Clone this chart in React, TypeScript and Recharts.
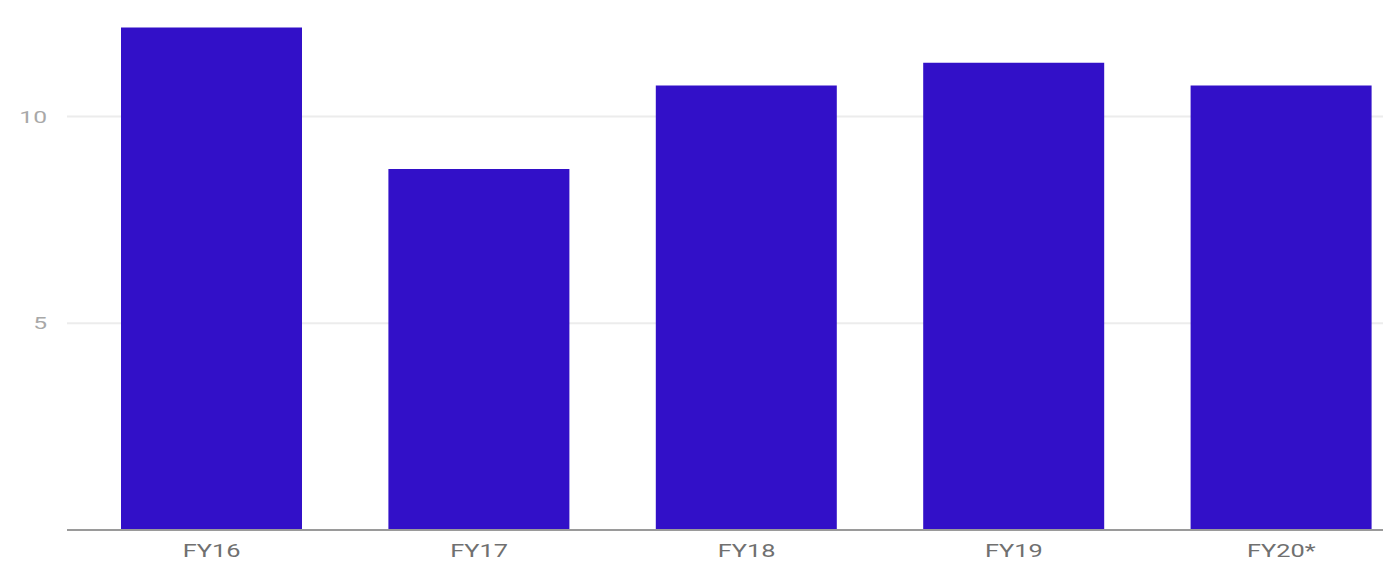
import React from "react";
import { BarChart, Bar, XAxis, YAxis, CartesianGrid } from "recharts";

const categories = ["FY16", "FY17", "FY18", "FY19", "FY20*"];
const values = [12.15, 8.73, 10.75, 11.3, 10.75];
const yTicks = [5, 10];

const data = categories.map((c, i) => ({ name: c, value: values[i] }));

const STRETCH = 1.45;

const XTick = (props: any) => {
  const { x, y, payload } = props;
  return (
    <g transform={`translate(${x},${y})`}>
      <text
        transform={`scale(${STRETCH},1)`}
        x={0}
        y={27}
        textAnchor="middle"
        fill="#707070"
        fontFamily="Roboto, sans-serif"
        fontWeight={400}
        fontSize={17.5}
      >
        {payload.value}
      </text>
    </g>
  );
};

const YTick = (props: any) => {
  const { x, y, payload } = props;
  return (
    <g transform={`translate(${x},${y})`}>
      <text
        transform={`scale(${STRETCH},1)`}
        x={0}
        y={0}
        dy="0.36em"
        textAnchor="end"
        fill="#a8a8a8"
        fontFamily="Roboto, sans-serif"
        fontWeight={400}
        fontSize={17}
      >
        {payload.value}
      </text>
    </g>
  );
};

export default function App() {
  return (
    <div
      style={{
        position: "absolute",
        left: 0,
        top: 0,
        width: 1383,
        height: 564,
        overflow: "hidden",
        background: "#ffffff",
      }}
    >
      <BarChart
        width={1440}
        height={564}
        data={data}
        margin={{ top: 13, right: 25, left: 0, bottom: 0 }}
        barSize={181}
      >
        <CartesianGrid
          vertical={false}
          horizontalValues={yTicks}
          stroke="#ececec"
          strokeWidth={2}
        />
        <XAxis
          dataKey="name"
          height={34}
          tickLine={false}
          tickSize={0}
          tickMargin={0}
          axisLine={{ stroke: "#9a9a9a", strokeWidth: 2 }}
          padding={{ left: 11, right: 0 }}
          tick={<XTick />}
          interval={0}
        />
        <YAxis
          width={67}
          domain={[0, 12.5]}
          ticks={yTicks}
          axisLine={false}
          tickLine={false}
          tickSize={0}
          tickMargin={20}
          tick={<YTick />}
        />
        <Bar dataKey="value" fill="#3210C8" isAnimationActive={false} />
      </BarChart>
    </div>
  );
}
